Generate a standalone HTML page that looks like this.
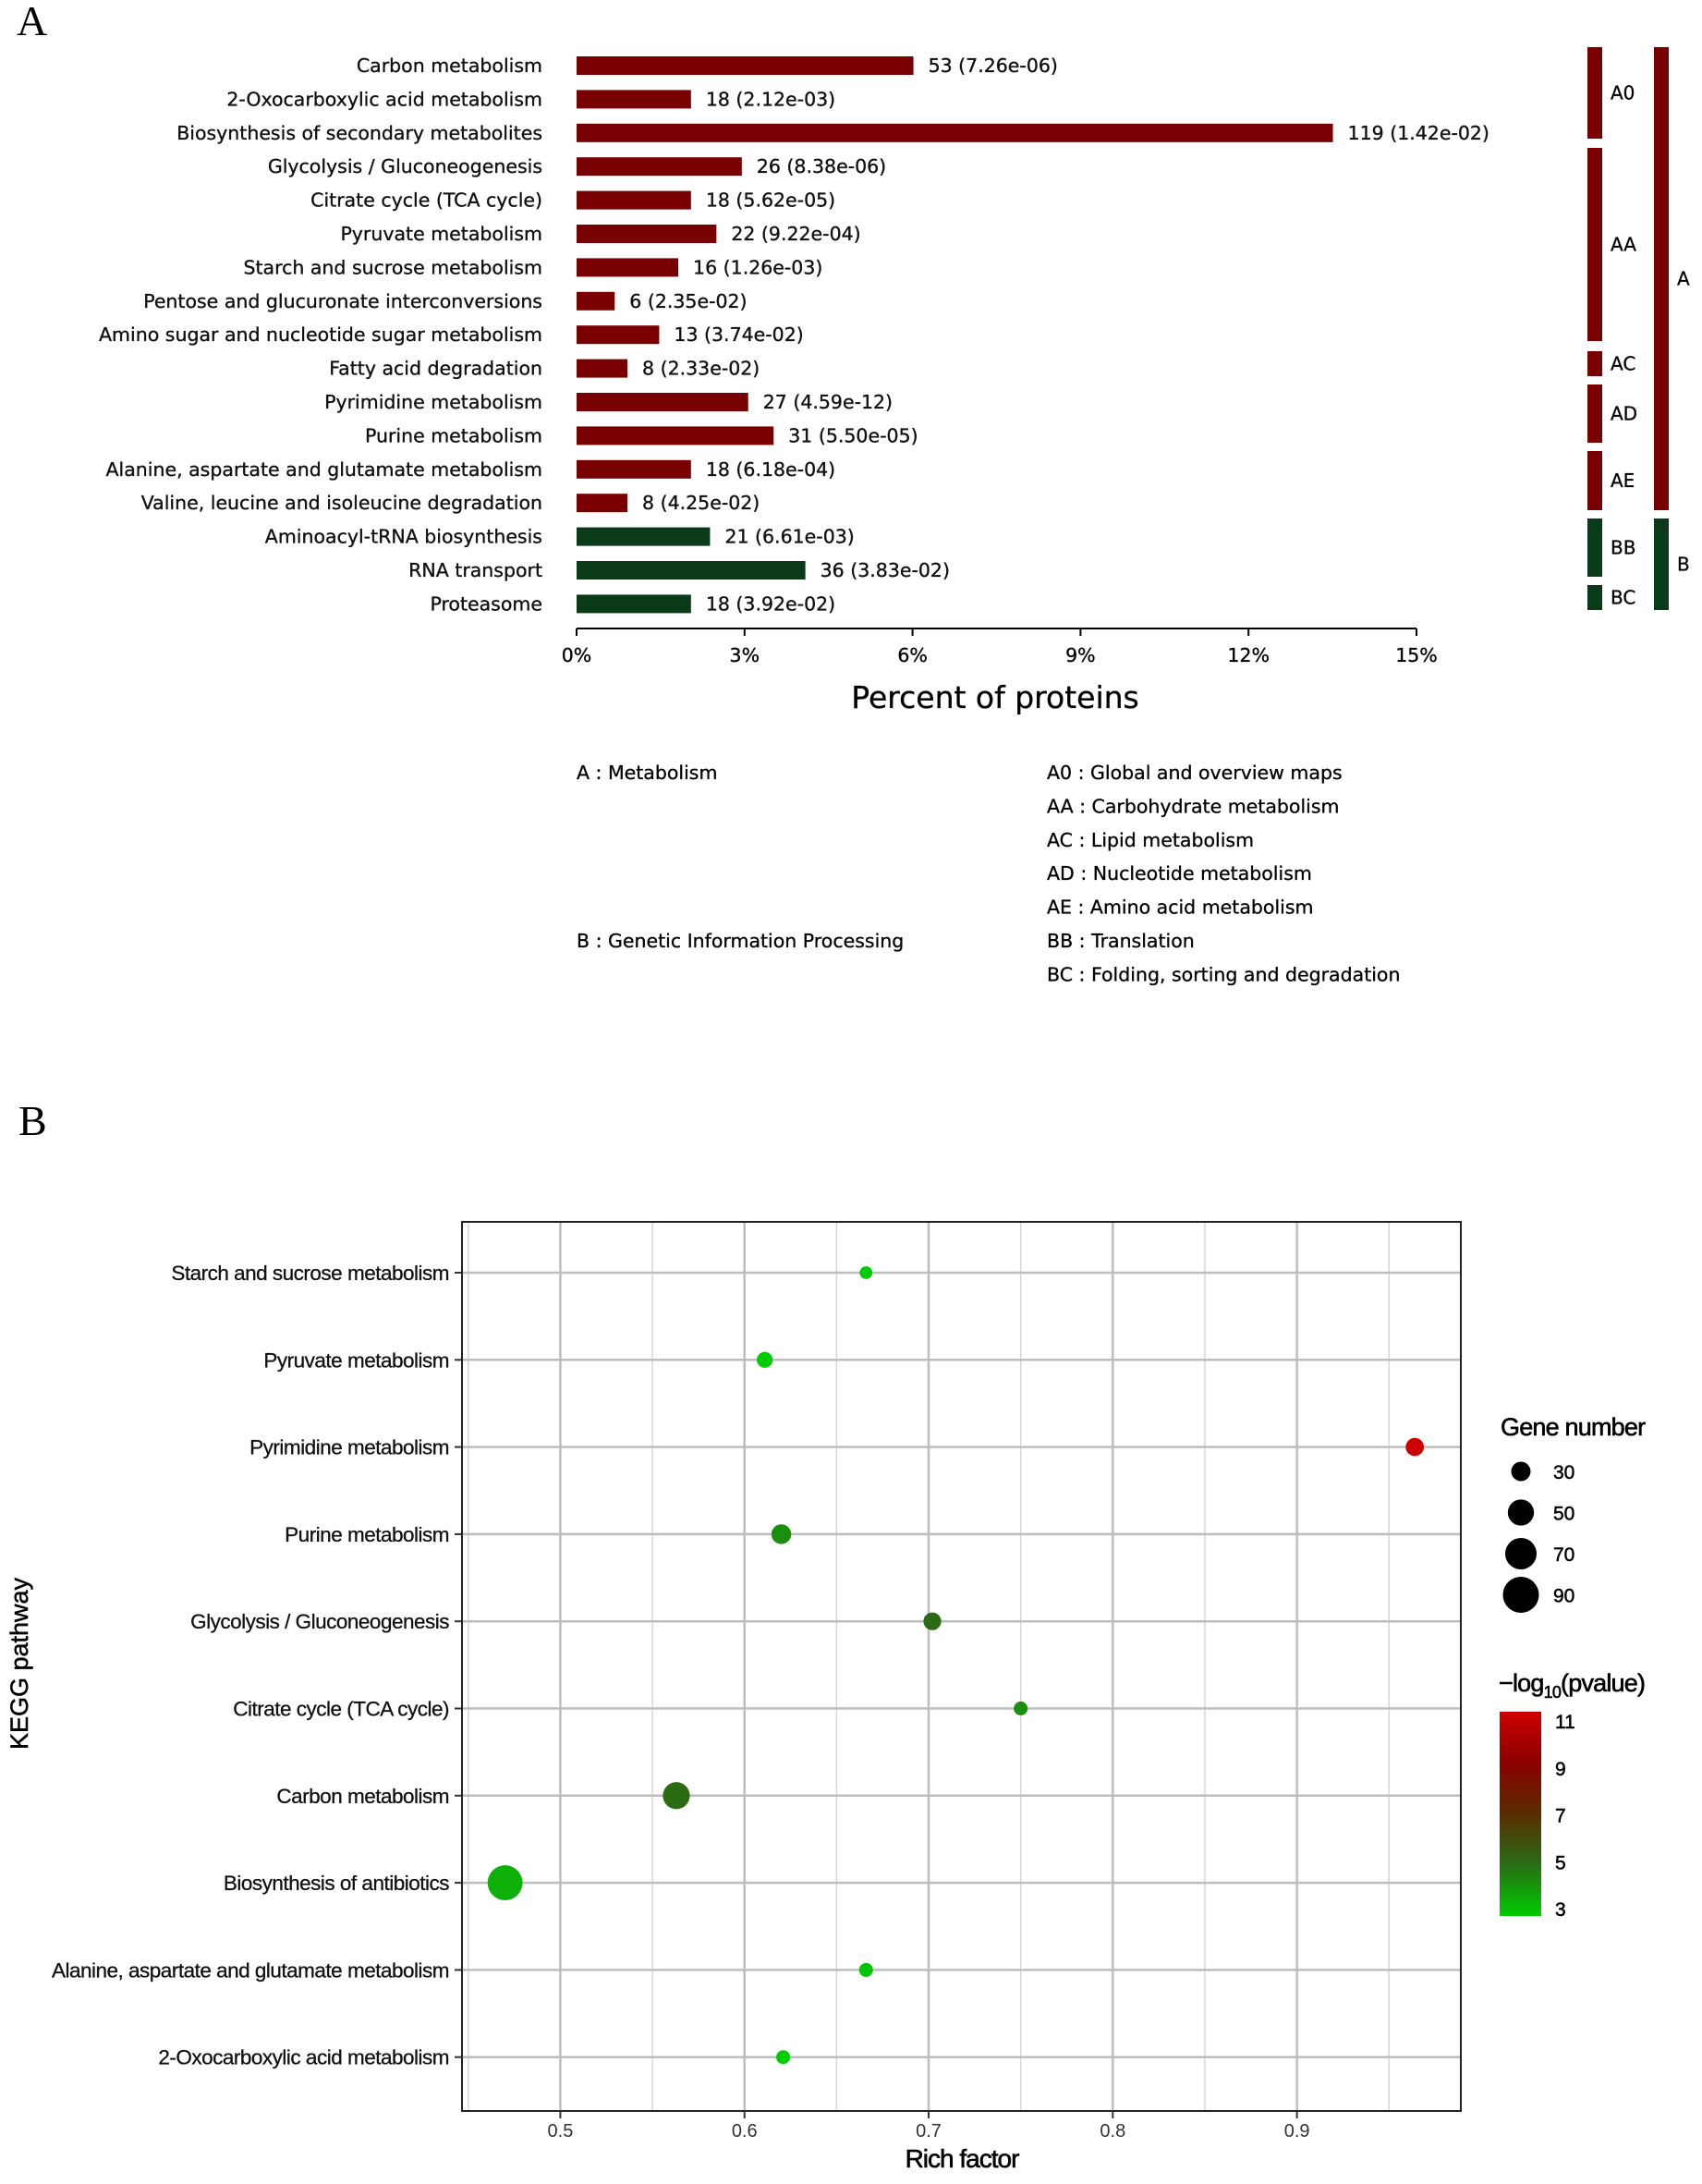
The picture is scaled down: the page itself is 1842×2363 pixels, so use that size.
<!DOCTYPE html>
<html><head><meta charset="utf-8"><style>
html,body{margin:0;padding:0;background:#fff}
svg{display:block}
text{font-family:"Liberation Sans",sans-serif}
.dv{font-family:"DejaVu Sans","Liberation Sans",sans-serif;stroke:#111;stroke-width:0.35}
</style></head><body>
<svg id="fig" width="1842" height="2363" viewBox="0 0 1842 2363" xmlns="http://www.w3.org/2000/svg">
<text x="18" y="38" font-size="46" style="font-family:'Liberation Serif',serif">A</text>
<g id="pa"></g>
<text x="20" y="1228" font-size="46" style="font-family:'Liberation Serif',serif">B</text>
<g id="pb"></g>
</svg>
<script>
const NS="http://www.w3.org/2000/svg";
function mk(parent,tag,attrs,txt){const e=document.createElementNS(NS,tag);for(const k in attrs)e.setAttribute(k,attrs[k]);if(txt!==undefined)e.textContent=txt;parent.appendChild(e);return e;}

// ---------- Panel A data ----------
const aCategories=["Carbon metabolism","2-Oxocarboxylic acid metabolism","Biosynthesis of secondary metabolites","Glycolysis / Gluconeogenesis","Citrate cycle (TCA cycle)","Pyruvate metabolism","Starch and sucrose metabolism","Pentose and glucuronate interconversions","Amino sugar and nucleotide sugar metabolism","Fatty acid degradation","Pyrimidine metabolism","Purine metabolism","Alanine, aspartate and glutamate metabolism","Valine, leucine and isoleucine degradation","Aminoacyl-tRNA biosynthesis","RNA transport","Proteasome"];
const aCounts=[53,18,119,26,18,22,16,6,13,8,27,31,18,8,21,36,18];
const aPvalues=["7.26e-06","2.12e-03","1.42e-02","8.38e-06","5.62e-05","9.22e-04","1.26e-03","2.35e-02","3.74e-02","2.33e-02","4.59e-12","5.50e-05","6.18e-04","4.25e-02","6.61e-03","3.83e-02","3.92e-02"];
const aGroups=["A","A","A","A","A","A","A","A","A","A","A","A","A","A","B","B","B"];
const aTotal=881;
const aTicks=[0,3,6,9,12,15];

const pa=document.getElementById('pa');
const ax0=624, ax1=1533, xmax=15;
const xA=v=>ax0+(v/xmax)*(ax1-ax0);
const rowY=i=>71+i*36.4;
aCategories.forEach((c,i)=>{
  const y=rowY(i), pct=aCounts[i]/aTotal*100;
  const col=aGroups[i]==="A"?"#790000":"#0b3a18";
  const t=mk(pa,'text',{x:587,y:y+7,'text-anchor':'end','font-size':20.5,fill:'#111',class:'dv'},c);
  
  
  const r=mk(pa,'rect',{x:ax0,y:y-10,width:xA(pct)-ax0,height:20,fill:col});
  
  
  const v=mk(pa,'text',{x:xA(pct)+16,y:y+7,'font-size':20.5,fill:'#111',class:'dv'},aCounts[i]+" ("+aPvalues[i]+")");
  
  
});
mk(pa,'line',{x1:ax0,y1:680,x2:ax1,y2:680,stroke:'#000','stroke-width':2});
aTicks.forEach(t=>{
  mk(pa,'line',{x1:xA(t),y1:680,x2:xA(t),y2:688,stroke:'#000','stroke-width':2});
  const tl=mk(pa,'text',{x:xA(t),y:716,'text-anchor':'middle','font-size':20.5,class:'dv'},t+"%");
  
  
});
const xt=mk(pa,'text',{x:1077,y:766,'text-anchor':'middle','font-size':33,class:'dv','stroke-width':0.2},"Percent of proteins");


// category brackets
const segs=[["A0",51,150,"#790000"],["AA",160,369,"#790000"],["AC",380,407,"#790000"],["AD",416,479,"#790000"],["AE",488,552,"#790000"],["BB",561,624,"#0b3a18"],["BC",633,660,"#0b3a18"]];
segs.forEach(s=>{
  const r=mk(pa,'rect',{x:1718,y:s[1],width:16,height:s[2]-s[1],fill:s[3]});
  
  
  mk(pa,'text',{x:1743,y:(s[1]+s[2])/2+7,'font-size':20,class:'dv'},s[0]);
});
[["A",51,552,"#790000"],["B",561,660,"#0b3a18"]].forEach(s=>{
  const r=mk(pa,'rect',{x:1790,y:s[1],width:16,height:s[2]-s[1],fill:s[3]});
  
  
  mk(pa,'text',{x:1815,y:(s[1]+s[2])/2+7,'font-size':20,class:'dv'},s[0]);
});
// legend
const leg=mk(pa,'g',{});


mk(leg,'text',{x:624,y:843,'font-size':20.5,class:'dv'},"A : Metabolism");
mk(leg,'text',{x:624,y:1025,'font-size':20.5,class:'dv'},"B : Genetic Information Processing");
["A0 : Global and overview maps","AA : Carbohydrate metabolism","AC : Lipid metabolism","AD : Nucleotide metabolism","AE : Amino acid metabolism","BB : Translation","BC : Folding, sorting and degradation"].forEach((s,i)=>{
  mk(leg,'text',{x:1133,y:843+i*36.4,'font-size':20.5,class:'dv'},s);
});

// ---------- Panel B data ----------
const bCategories=["Starch and sucrose metabolism","Pyruvate metabolism","Pyrimidine metabolism","Purine metabolism","Glycolysis / Gluconeogenesis","Citrate cycle (TCA cycle)","Carbon metabolism","Biosynthesis of antibiotics","Alanine, aspartate and glutamate metabolism","2-Oxocarboxylic acid metabolism"];
const bRich=[0.666,0.611,0.964,0.620,0.702,0.750,0.563,0.470,0.666,0.621];
const bGenes=[16,22,27,31,26,18,53,85,18,18];
const bLogP=[2.9,3.0,11.3,4.3,5.1,4.3,5.1,3.6,3.2,2.7];
const bXTicks=[0.5,0.6,0.7,0.8,0.9];
const bSizeLegend=[30,50,70,90];
const bColorTicks=[11,9,7,5,3];

const pb=document.getElementById('pb');
const L=500,R=1581,T=1322,B=2284;
const xmin=0.4466,xmaxB=0.989;
const xB=v=>L+(v-xmin)/(xmaxB-xmin)*(R-L);
const yB=i=>1377+i*94.3;
const rad=n=>1.5*Math.sqrt(Math.max(4,-11+2*n));
function lerp(a,b,t){return Math.round(a+(b-a)*t);}
const stops=[[3,[0,204,0]],[5,[40,110,20]],[7,[90,45,0]],[9,[140,0,0]],[11,[205,0,0]]];
function colP(v){v=Math.max(3,Math.min(11,v));for(let k=0;k<stops.length-1;k++){const a=stops[k],b=stops[k+1];if(v<=b[0]){const t=(v-a[0])/(b[0]-a[0]);return `rgb(${lerp(a[1][0],b[1][0],t)},${lerp(a[1][1],b[1][1],t)},${lerp(a[1][2],b[1][2],t)})`;}}return "rgb(205,0,0)";}

for(let v=0.45;v<0.99;v+=0.1){mk(pb,'line',{x1:xB(v),y1:T,x2:xB(v),y2:B,stroke:'#d6d6d6','stroke-width':1.5});}
bXTicks.forEach(v=>mk(pb,'line',{x1:xB(v),y1:T,x2:xB(v),y2:B,stroke:'#bdbdbd','stroke-width':2.5}));
bCategories.forEach((c,i)=>{
  mk(pb,'line',{x1:L,y1:yB(i),x2:R,y2:yB(i),stroke:'#bdbdbd','stroke-width':2.5});
  mk(pb,'line',{x1:L-8,y1:yB(i),x2:L,y2:yB(i),stroke:'#333','stroke-width':2});
  const t=mk(pb,'text',{x:486,y:yB(i)+8,'text-anchor':'end','font-size':22.5,'letter-spacing':-0.5,fill:'#111',stroke:'#111','stroke-width':0.3},c);
  
  
});
mk(pb,'rect',{x:L,y:T,width:R-L,height:B-T,fill:'none',stroke:'#222','stroke-width':2});
bXTicks.forEach(v=>{
  mk(pb,'line',{x1:xB(v),y1:B,x2:xB(v),y2:B+8,stroke:'#333','stroke-width':2});
  const t=mk(pb,'text',{x:xB(v),y:B+28,'text-anchor':'middle','font-size':20,fill:'#333'},v.toFixed(1));
  
  
});
bCategories.forEach((c,i)=>{
  const p=mk(pb,'circle',{cx:xB(bRich[i]),cy:yB(i),r:rad(bGenes[i]),fill:colP(bLogP[i])});
  
  
});
const rf=mk(pb,'text',{x:1041,y:2345,'text-anchor':'middle','font-size':28,'letter-spacing':-1,stroke:'#000','stroke-width':0.6},"Rich factor");


const kp=mk(pb,'text',{x:0,y:0,'text-anchor':'middle','font-size':27,stroke:'#000','stroke-width':0.5,transform:'translate(30,1800) rotate(-90)'},"KEGG pathway");


// size legend
const sl=mk(pb,'g',{});


mk(sl,'text',{x:1624,y:1553,'font-size':27,'letter-spacing':-0.8,stroke:'#000','stroke-width':0.6},"Gene number");
bSizeLegend.forEach((n,i)=>{
  const y=1592+i*44.5;
  mk(sl,'circle',{cx:1646,cy:y,r:rad(n),fill:'#000'});
  mk(sl,'text',{x:1681,y:y+8,'font-size':21,stroke:'#000','stroke-width':0.5},String(n));
});
// color legend
const cl=mk(pb,'g',{});


const tt=mk(cl,'text',{x:1622,y:1830,'font-size':27,'letter-spacing':-0.8,stroke:'#000','stroke-width':0.6},"−log");
mk(tt,'tspan',{'font-size':18,dy:7},"10");
mk(tt,'tspan',{dy:-7},"(pvalue)");
const defs=mk(cl,'defs',{});
const lg=mk(defs,'linearGradient',{id:'cg',x1:0,y1:1,x2:0,y2:0});
stops.forEach(s=>mk(lg,'stop',{offset:((s[0]-3)/8),'stop-color':colP(s[0])}));
const cy0=2065,cy1=1862;
mk(cl,'rect',{x:1623,y:1852,width:45,height:221,fill:'url(#cg)'});
bColorTicks.forEach(v=>{
  const y=cy0+(v-3)/8*(cy1-cy0);
  mk(cl,'text',{x:1683,y:y+8,'font-size':21,stroke:'#000','stroke-width':0.5},String(v));
});
</script>
</body></html>
